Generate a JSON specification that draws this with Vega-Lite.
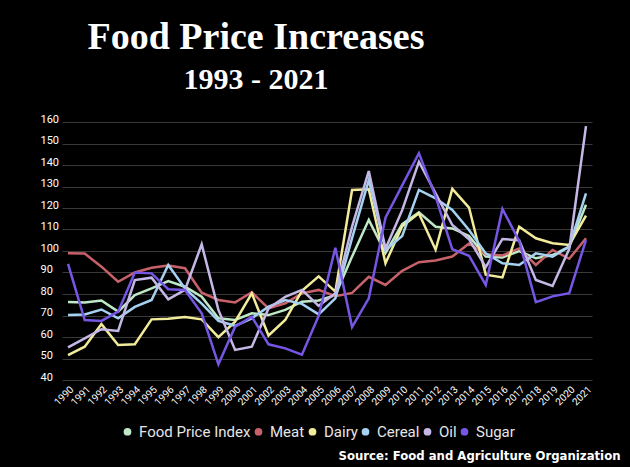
{
  "$schema": "https://vega.github.io/schema/vega-lite/v6.json",
  "autosize": "none",
  "width": 530,
  "height": 258,
  "padding": {"left": 62, "top": 122, "right": 38, "bottom": 87},
  "background": "#000000",
  "title": {
    "text": "Food Price Increases",
    "subtitle": "1993 - 2021",
    "anchor": "middle",
    "frame": "group",
    "dx": -71,
    "offset": 18,
    "font": "Liberation Serif",
    "fontSize": 38,
    "fontWeight": "bold",
    "color": "#ffffff",
    "subtitleFont": "Liberation Serif",
    "subtitleFontSize": 30,
    "subtitleFontWeight": "bold",
    "subtitleColor": "#ffffff",
    "subtitlePadding": 8
  },
  "config": {
    "view": {"stroke": null},
    "font": "Roboto"
  },
  "data": {
    "values": [
      {"year": "1990", "series": "Food Price Index", "value": 76.3},
      {"year": "1991", "series": "Food Price Index", "value": 76.0},
      {"year": "1992", "series": "Food Price Index", "value": 77.0},
      {"year": "1993", "series": "Food Price Index", "value": 71.8},
      {"year": "1994", "series": "Food Price Index", "value": 79.5},
      {"year": "1995", "series": "Food Price Index", "value": 82.6},
      {"year": "1996", "series": "Food Price Index", "value": 86.0},
      {"year": "1997", "series": "Food Price Index", "value": 83.4},
      {"year": "1998", "series": "Food Price Index", "value": 78.7},
      {"year": "1999", "series": "Food Price Index", "value": 68.7},
      {"year": "2000", "series": "Food Price Index", "value": 67.9},
      {"year": "2001", "series": "Food Price Index", "value": 71.0},
      {"year": "2002", "series": "Food Price Index", "value": 70.2},
      {"year": "2003", "series": "Food Price Index", "value": 72.6},
      {"year": "2004", "series": "Food Price Index", "value": 76.4},
      {"year": "2005", "series": "Food Price Index", "value": 77.0},
      {"year": "2006", "series": "Food Price Index", "value": 79.5},
      {"year": "2007", "series": "Food Price Index", "value": 97.4},
      {"year": "2008", "series": "Food Price Index", "value": 114.5},
      {"year": "2009", "series": "Food Price Index", "value": 99.0},
      {"year": "2010", "series": "Food Price Index", "value": 112.5},
      {"year": "2011", "series": "Food Price Index", "value": 118.0},
      {"year": "2012", "series": "Food Price Index", "value": 111.3},
      {"year": "2013", "series": "Food Price Index", "value": 110.5},
      {"year": "2014", "series": "Food Price Index", "value": 107.0},
      {"year": "2015", "series": "Food Price Index", "value": 97.4},
      {"year": "2016", "series": "Food Price Index", "value": 97.0},
      {"year": "2017", "series": "Food Price Index", "value": 100.0},
      {"year": "2018", "series": "Food Price Index", "value": 96.6},
      {"year": "2019", "series": "Food Price Index", "value": 98.1},
      {"year": "2020", "series": "Food Price Index", "value": 102.0},
      {"year": "2021", "series": "Food Price Index", "value": 121.5},

      {"year": "1990", "series": "Meat", "value": 99.0},
      {"year": "1991", "series": "Meat", "value": 98.8},
      {"year": "1992", "series": "Meat", "value": 92.7},
      {"year": "1993", "series": "Meat", "value": 85.7},
      {"year": "1994", "series": "Meat", "value": 90.0},
      {"year": "1995", "series": "Meat", "value": 92.2},
      {"year": "1996", "series": "Meat", "value": 93.2},
      {"year": "1997", "series": "Meat", "value": 92.0},
      {"year": "1998", "series": "Meat", "value": 80.6},
      {"year": "1999", "series": "Meat", "value": 77.2},
      {"year": "2000", "series": "Meat", "value": 76.1},
      {"year": "2001", "series": "Meat", "value": 80.8},
      {"year": "2002", "series": "Meat", "value": 73.3},
      {"year": "2003", "series": "Meat", "value": 75.7},
      {"year": "2004", "series": "Meat", "value": 80.3},
      {"year": "2005", "series": "Meat", "value": 81.9},
      {"year": "2006", "series": "Meat", "value": 79.0},
      {"year": "2007", "series": "Meat", "value": 80.5},
      {"year": "2008", "series": "Meat", "value": 88.0},
      {"year": "2009", "series": "Meat", "value": 84.2},
      {"year": "2010", "series": "Meat", "value": 90.8},
      {"year": "2011", "series": "Meat", "value": 94.8},
      {"year": "2012", "series": "Meat", "value": 95.6},
      {"year": "2013", "series": "Meat", "value": 97.4},
      {"year": "2014", "series": "Meat", "value": 103.5},
      {"year": "2015", "series": "Meat", "value": 98.5},
      {"year": "2016", "series": "Meat", "value": 97.9},
      {"year": "2017", "series": "Meat", "value": 101.2},
      {"year": "2018", "series": "Meat", "value": 93.5},
      {"year": "2019", "series": "Meat", "value": 100.5},
      {"year": "2020", "series": "Meat", "value": 96.4},
      {"year": "2021", "series": "Meat", "value": 105.9},

      {"year": "1990", "series": "Dairy", "value": 51.6},
      {"year": "1991", "series": "Dairy", "value": 55.5},
      {"year": "1992", "series": "Dairy", "value": 66.0},
      {"year": "1993", "series": "Dairy", "value": 56.3},
      {"year": "1994", "series": "Dairy", "value": 56.6},
      {"year": "1995", "series": "Dairy", "value": 68.2},
      {"year": "1996", "series": "Dairy", "value": 68.5},
      {"year": "1997", "series": "Dairy", "value": 69.3},
      {"year": "1998", "series": "Dairy", "value": 68.2},
      {"year": "1999", "series": "Dairy", "value": 59.9},
      {"year": "2000", "series": "Dairy", "value": 67.1},
      {"year": "2001", "series": "Dairy", "value": 80.3},
      {"year": "2002", "series": "Dairy", "value": 60.7},
      {"year": "2003", "series": "Dairy", "value": 67.9},
      {"year": "2004", "series": "Dairy", "value": 81.5},
      {"year": "2005", "series": "Dairy", "value": 88.2},
      {"year": "2006", "series": "Dairy", "value": 81.1},
      {"year": "2007", "series": "Dairy", "value": 128.4},
      {"year": "2008", "series": "Dairy", "value": 128.7},
      {"year": "2009", "series": "Dairy", "value": 94.3},
      {"year": "2010", "series": "Dairy", "value": 111.5},
      {"year": "2011", "series": "Dairy", "value": 117.5},
      {"year": "2012", "series": "Dairy", "value": 100.6},
      {"year": "2013", "series": "Dairy", "value": 128.9},
      {"year": "2014", "series": "Dairy", "value": 120.2},
      {"year": "2015", "series": "Dairy", "value": 89.0},
      {"year": "2016", "series": "Dairy", "value": 87.7},
      {"year": "2017", "series": "Dairy", "value": 111.3},
      {"year": "2018", "series": "Dairy", "value": 105.9},
      {"year": "2019", "series": "Dairy", "value": 103.6},
      {"year": "2020", "series": "Dairy", "value": 102.8},
      {"year": "2021", "series": "Dairy", "value": 116.5},

      {"year": "1990", "series": "Cereal", "value": 70.2},
      {"year": "1991", "series": "Cereal", "value": 70.5},
      {"year": "1992", "series": "Cereal", "value": 72.8},
      {"year": "1993", "series": "Cereal", "value": 68.7},
      {"year": "1994", "series": "Cereal", "value": 74.0},
      {"year": "1995", "series": "Cereal", "value": 77.2},
      {"year": "1996", "series": "Cereal", "value": 93.5},
      {"year": "1997", "series": "Cereal", "value": 82.6},
      {"year": "1998", "series": "Cereal", "value": 75.5},
      {"year": "1999", "series": "Cereal", "value": 67.5},
      {"year": "2000", "series": "Cereal", "value": 65.2},
      {"year": "2001", "series": "Cereal", "value": 68.7},
      {"year": "2002", "series": "Cereal", "value": 74.1},
      {"year": "2003", "series": "Cereal", "value": 77.2},
      {"year": "2004", "series": "Cereal", "value": 75.4},
      {"year": "2005", "series": "Cereal", "value": 70.5},
      {"year": "2006", "series": "Cereal", "value": 78.0},
      {"year": "2007", "series": "Cereal", "value": 106.0},
      {"year": "2008", "series": "Cereal", "value": 133.0},
      {"year": "2009", "series": "Cereal", "value": 100.5},
      {"year": "2010", "series": "Cereal", "value": 107.0},
      {"year": "2011", "series": "Cereal", "value": 128.4},
      {"year": "2012", "series": "Cereal", "value": 124.5},
      {"year": "2013", "series": "Cereal", "value": 119.1},
      {"year": "2014", "series": "Cereal", "value": 109.8},
      {"year": "2015", "series": "Cereal", "value": 98.9},
      {"year": "2016", "series": "Cereal", "value": 94.3},
      {"year": "2017", "series": "Cereal", "value": 93.5},
      {"year": "2018", "series": "Cereal", "value": 98.9},
      {"year": "2019", "series": "Cereal", "value": 97.4},
      {"year": "2020", "series": "Cereal", "value": 102.0},
      {"year": "2021", "series": "Cereal", "value": 126.8},

      {"year": "1990", "series": "Oil", "value": 55.2},
      {"year": "1991", "series": "Oil", "value": 59.4},
      {"year": "1992", "series": "Oil", "value": 63.6},
      {"year": "1993", "series": "Oil", "value": 62.8},
      {"year": "1994", "series": "Oil", "value": 86.5},
      {"year": "1995", "series": "Oil", "value": 87.6},
      {"year": "1996", "series": "Oil", "value": 77.5},
      {"year": "1997", "series": "Oil", "value": 81.9},
      {"year": "1998", "series": "Oil", "value": 103.1},
      {"year": "1999", "series": "Oil", "value": 72.6},
      {"year": "2000", "series": "Oil", "value": 54.0},
      {"year": "2001", "series": "Oil", "value": 55.5},
      {"year": "2002", "series": "Oil", "value": 73.3},
      {"year": "2003", "series": "Oil", "value": 78.7},
      {"year": "2004", "series": "Oil", "value": 81.9},
      {"year": "2005", "series": "Oil", "value": 74.5},
      {"year": "2006", "series": "Oil", "value": 80.3},
      {"year": "2007", "series": "Oil", "value": 111.3},
      {"year": "2008", "series": "Oil", "value": 137.2},
      {"year": "2009", "series": "Oil", "value": 101.0},
      {"year": "2010", "series": "Oil", "value": 119.0},
      {"year": "2011", "series": "Oil", "value": 141.5},
      {"year": "2012", "series": "Oil", "value": 126.8},
      {"year": "2013", "series": "Oil", "value": 112.1},
      {"year": "2014", "series": "Oil", "value": 105.5},
      {"year": "2015", "series": "Oil", "value": 92.5},
      {"year": "2016", "series": "Oil", "value": 105.6},
      {"year": "2017", "series": "Oil", "value": 105.0},
      {"year": "2018", "series": "Oil", "value": 86.5},
      {"year": "2019", "series": "Oil", "value": 83.7},
      {"year": "2020", "series": "Oil", "value": 101.0},
      {"year": "2021", "series": "Oil", "value": 158.1},

      {"year": "1990", "series": "Sugar", "value": 94.0},
      {"year": "1991", "series": "Sugar", "value": 67.9},
      {"year": "1992", "series": "Sugar", "value": 67.5},
      {"year": "1993", "series": "Sugar", "value": 71.8},
      {"year": "1994", "series": "Sugar", "value": 90.0},
      {"year": "1995", "series": "Sugar", "value": 89.6},
      {"year": "1996", "series": "Sugar", "value": 82.2},
      {"year": "1997", "series": "Sugar", "value": 81.9},
      {"year": "1998", "series": "Sugar", "value": 71.0},
      {"year": "1999", "series": "Sugar", "value": 47.3},
      {"year": "2000", "series": "Sugar", "value": 64.8},
      {"year": "2001", "series": "Sugar", "value": 69.4},
      {"year": "2002", "series": "Sugar", "value": 56.6},
      {"year": "2003", "series": "Sugar", "value": 54.7},
      {"year": "2004", "series": "Sugar", "value": 51.8},
      {"year": "2005", "series": "Sugar", "value": 69.8},
      {"year": "2006", "series": "Sugar", "value": 101.5},
      {"year": "2007", "series": "Sugar", "value": 64.6},
      {"year": "2008", "series": "Sugar", "value": 78.0},
      {"year": "2009", "series": "Sugar", "value": 115.5},
      {"year": "2010", "series": "Sugar", "value": 130.5},
      {"year": "2011", "series": "Sugar", "value": 145.5},
      {"year": "2012", "series": "Sugar", "value": 125.3},
      {"year": "2013", "series": "Sugar", "value": 100.8},
      {"year": "2014", "series": "Sugar", "value": 97.8},
      {"year": "2015", "series": "Sugar", "value": 84.2},
      {"year": "2016", "series": "Sugar", "value": 119.6},
      {"year": "2017", "series": "Sugar", "value": 104.7},
      {"year": "2018", "series": "Sugar", "value": 76.2},
      {"year": "2019", "series": "Sugar", "value": 78.9},
      {"year": "2020", "series": "Sugar", "value": 80.4},
      {"year": "2021", "series": "Sugar", "value": 105.1}
    ]
  },
  "mark": {"type": "line", "strokeWidth": 2.5, "strokeJoin": "miter"},
  "encoding": {
    "x": {
      "field": "year",
      "type": "ordinal",
      "scale": {"type": "point", "padding": 0.36},
      "axis": {
        "title": "Source: Food and  Agriculture Organization",
        "titleFont": "DejaVu Sans Condensed",
        "titleFontWeight": "bold",
        "titleFontSize": 13,
        "titleColor": "#ffffff",
        "titleAlign": "right",
        "titleAnchor": null,
        "titleX": 558,
        "titleY": 75,
        "titleBaseline": "middle",
        "labelAngle": -45,
        "labelFontSize": 10,
        "labelColor": "#ffffff",
        "labelPadding": 4,
        "ticks": false,
        "domain": false,
        "grid": false
      }
    },
    "y": {
      "field": "value",
      "type": "quantitative",
      "scale": {"domain": [40, 160], "nice": false, "zero": false},
      "axis": {
        "title": null,
        "values": [40, 50, 60, 70, 80, 90, 100, 110, 120, 130, 140, 150, 160],
        "labelAlign": "left",
        "labelBaseline": "alphabetic",
        "labelPadding": 22,
        "tickSize": 0,
        "ticks": false,
        "domain": false,
        "labelFontSize": 11,
        "labelColor": "#ffffff",
        "gridColor": "#3a3a3a",
        "gridWidth": 1
      }
    },
    "color": {
      "field": "series",
      "type": "nominal",
      "scale": {
        "domain": ["Food Price Index", "Meat", "Dairy", "Cereal", "Oil", "Sugar"],
        "range": ["#bfe9c6", "#c8626a", "#f2ec9a", "#a6d2f2", "#c6b8e6", "#7656e4"]
      },
      "legend": {
        "title": null,
        "orient": "none",
        "direction": "horizontal",
        "legendX": 58,
        "legendY": 302,
        "symbolType": "circle",
        "symbolSize": 60,
        "symbolStrokeWidth": 0,
        "labelFontSize": 15,
        "labelColor": "#e6e6e6",
        "columnPadding": 0,
        "labelOffset": 4,
        "encode": {
          "symbols": {"update": {"fill": {"scale": "color", "field": "value"}, "fillOpacity": {"value": 1}}}
        }
      }
    }
  }
}
